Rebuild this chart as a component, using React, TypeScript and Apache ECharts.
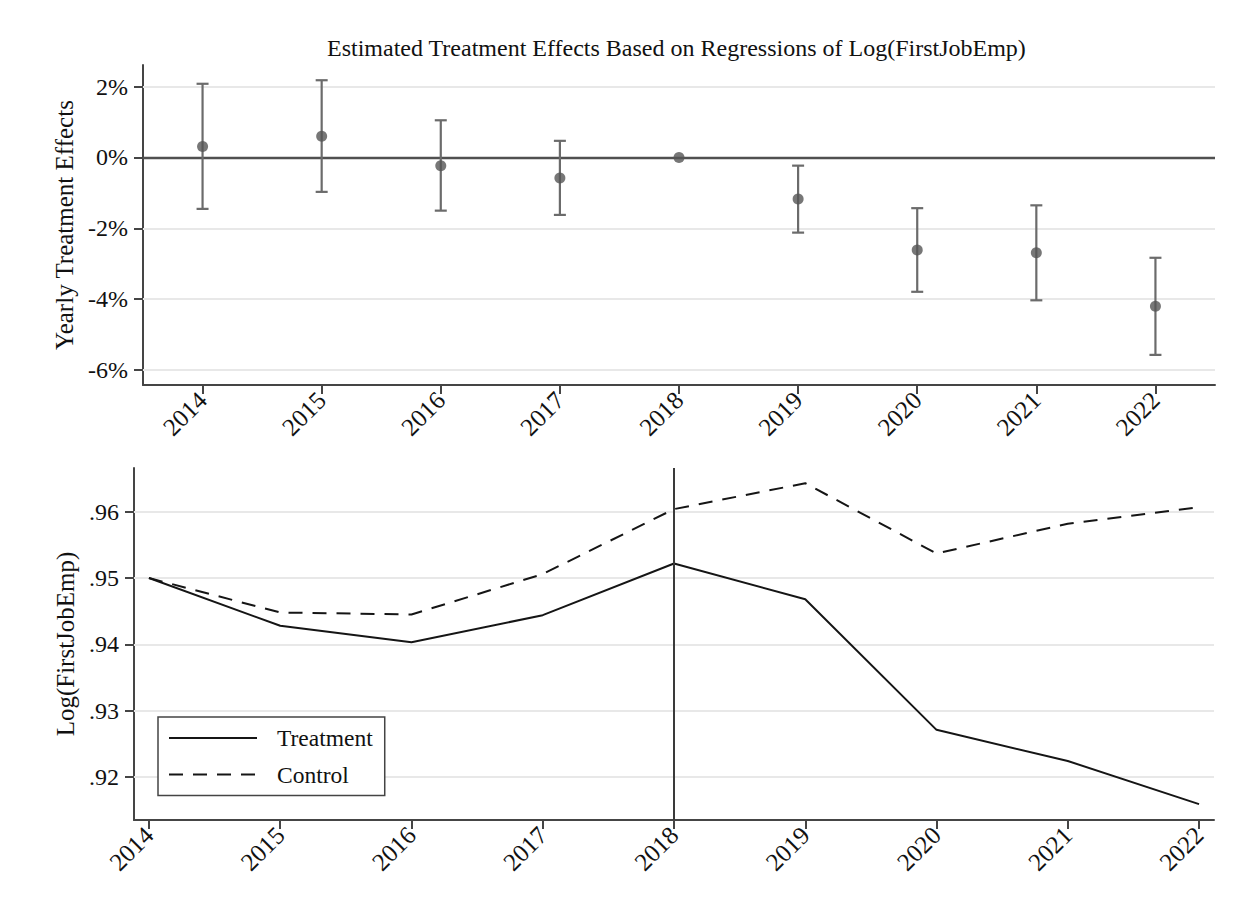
import React, { useEffect, useRef } from "react";
import * as echarts from "echarts";

// Years shared by both panels
const years = [2014, 2015, 2016, 2017, 2018, 2019, 2020, 2021, 2022];

// Top panel: yearly treatment effects (percent) and 95% CI bounds (2018 is the base year)
const effect = [0.31, 0.6, -0.23, -0.58, 0, -1.17, -2.61, -2.69, -4.2];
const ciLow = [-1.45, -0.97, -1.5, -1.62, null, -2.12, -3.79, -4.03, -5.57];
const ciHigh = [2.08, 2.18, 1.05, 0.47, null, -0.23, -1.43, -1.35, -2.83];
const effectTicks = [-6, -4, -2, 0, 2];

// Bottom panel: Log(FirstJobEmp) by group
const treatment = [0.95, 0.9428, 0.9403, 0.9444, 0.9522, 0.9468, 0.9271, 0.9224, 0.9159];
const control = [0.95, 0.9448, 0.9445, 0.9506, 0.9604, 0.9643, 0.9537, 0.9582, 0.9607];
const levelTicks = [0.92, 0.93, 0.94, 0.95, 0.96];
const treatYear = 2018;

const FONT = "'Liberation Serif', 'Times New Roman', serif";
const AXIS_COLOR = "#454545";
const GRID_COLOR = "#e8e8e8";

export default function App() {
  const ref = useRef<HTMLDivElement>(null);

  useEffect(() => {
    if (!ref.current) return;
    const chart = echarts.init(ref.current, null, { renderer: "svg" });

    const axisCommon = {
      axisLine: { show: true, onZero: false, lineStyle: { color: AXIS_COLOR, width: 2 } },
      axisTick: { show: true, length: 9, lineStyle: { color: AXIS_COLOR, width: 2 } },
      splitLine: { show: false },
    };

    const xLabel = {
      rotate: 45,
      fontFamily: FONT,
      fontSize: 25,
      color: "#111",
      margin: 11,
      customValues: years,
      formatter: (v: number) => String(v),
    };

    const option: any = {
      animation: false,
      backgroundColor: "#fff",
      title: {
        text: "Estimated Treatment Effects Based on Regressions of Log(FirstJobEmp)",
        left: 327,
        top: 36,
        padding: 0,
        textStyle: { fontFamily: FONT, fontSize: 24, fontWeight: "normal", color: "#111" },
      },
      legend: {
        orient: "vertical",
        left: 158,
        top: 717,
        data: ["Treatment", "Control"],
        itemWidth: 88,
        itemHeight: 24,
        itemGap: 12.6,
        padding: [9, 12, 9, 10],
        backgroundColor: "#fff",
        borderColor: "#444",
        borderWidth: 1.5,
        borderRadius: 0,
        selectedMode: false,
        itemStyle: { color: "rgba(0,0,0,0)", borderWidth: 0, opacity: 0 },
        textStyle: { fontFamily: FONT, fontSize: 23.5, color: "#111", padding: [0, 0, 0, 15] },
      },
      grid: [
        { left: 143, right: 39, top: 65, height: 320 },
        { left: 134, right: 40, top: 468, height: 352 },
      ],
      xAxis: [
        {
          gridIndex: 0,
          type: "value",
          min: 2013.5,
          max: 2022.5,
          ...axisCommon,
          axisTick: { ...axisCommon.axisTick, customValues: years },
          axisLabel: xLabel,
        },
        {
          gridIndex: 1,
          type: "value",
          min: 2013.886,
          max: 2022.114,
          ...axisCommon,
          axisTick: { ...axisCommon.axisTick, customValues: years },
          axisLabel: xLabel,
        },
      ],
      yAxis: [
        {
          gridIndex: 0,
          type: "value",
          min: -6.42,
          max: 2.61,
          ...axisCommon,
          axisTick: { ...axisCommon.axisTick, customValues: effectTicks },
          axisLabel: {
            fontFamily: FONT,
            fontSize: 24,
            color: "#111",
            margin: 15,
            customValues: effectTicks,
            formatter: (v: number) => `${v}%`,
          },
          name: "Yearly Treatment Effects",
          nameLocation: "middle",
          nameGap: 54,
          nameTextStyle: { fontFamily: FONT, fontSize: 25, color: "#111" },
        },
        {
          gridIndex: 1,
          type: "value",
          min: 0.9135,
          max: 0.9666,
          ...axisCommon,
          axisTick: { ...axisCommon.axisTick, customValues: levelTicks },
          axisLabel: {
            fontFamily: FONT,
            fontSize: 24,
            color: "#111",
            margin: 15,
            customValues: levelTicks,
            formatter: (v: number) => v.toFixed(2).replace(/^0/, ""),
          },
          name: "Log(FirstJobEmp)",
          nameLocation: "middle",
          nameGap: 47,
          nameTextStyle: { fontFamily: FONT, fontSize: 25, color: "#111" },
        },
      ],
      series: [
        {
          name: "ci",
          type: "custom",
          xAxisIndex: 0,
          yAxisIndex: 0,
          z: 3,
          data: years
            .map((y, i) => [y, ciLow[i], ciHigh[i]])
            .filter((d) => d[1] !== null),
          renderItem: (params: any, api: any) => {
            const x = api.value(0);
            const lo = api.coord([x, api.value(1)]);
            const hi = api.coord([x, api.value(2)]);
            const half = 6;
            const style = { stroke: "#6b6b6b", lineWidth: 2.2 };
            return {
              type: "group",
              children: [
                { type: "line", shape: { x1: lo[0], y1: lo[1], x2: hi[0], y2: hi[1] }, style },
                { type: "line", shape: { x1: lo[0] - half, y1: lo[1], x2: lo[0] + half, y2: lo[1] }, style },
                { type: "line", shape: { x1: hi[0] - half, y1: hi[1], x2: hi[0] + half, y2: hi[1] }, style },
              ],
            };
          },
          markLine: {
            silent: true,
            symbol: "none",
            z: 1,
            label: { show: false },
            lineStyle: { color: GRID_COLOR, width: 2, type: "solid" },
            data: effectTicks.map((v) =>
              v === 0
                ? { yAxis: v, lineStyle: { color: "#505050", width: 2.4, type: "solid" } }
                : { yAxis: v }
            ),
          },
        },
        {
          name: "effect",
          type: "scatter",
          xAxisIndex: 0,
          yAxisIndex: 0,
          z: 4,
          symbol: "circle",
          symbolSize: 11,
          itemStyle: { color: "#555555" },
          data: years.map((y, i) => [y, effect[i]]),
        },
        {
          name: "Treatment",
          type: "line",
          xAxisIndex: 1,
          yAxisIndex: 1,
          symbol: "none",
          z: 3,
          lineStyle: { color: "#151515", width: 2 },
          itemStyle: { color: "#151515" },
          data: years.map((y, i) => [y, treatment[i]]),
          markLine: {
            silent: true,
            symbol: "none",
            z: 4,
            label: { show: false },
            lineStyle: { color: "#3a3a3a", width: 2, type: "solid" },
            data: [{ xAxis: treatYear }],
          },
        },
        {
          name: "Control",
          type: "line",
          xAxisIndex: 1,
          yAxisIndex: 1,
          symbol: "none",
          z: 3,
          lineStyle: { color: "#151515", width: 2, type: [14, 10] },
          itemStyle: { color: "#151515" },
          data: years.map((y, i) => [y, control[i]]),
          markLine: {
            silent: true,
            symbol: "none",
            z: 1,
            label: { show: false },
            lineStyle: { color: GRID_COLOR, width: 2, type: "solid" },
            data: levelTicks.map((v) => ({ yAxis: v })),
          },
        },
      ],
    };

    chart.setOption(option);
    return () => chart.dispose();
  }, []);

  return (
    <div
      ref={ref}
      style={{ position: "fixed", left: 0, top: 0, width: 1254, height: 912, background: "#fff" }}
    />
  );
}
